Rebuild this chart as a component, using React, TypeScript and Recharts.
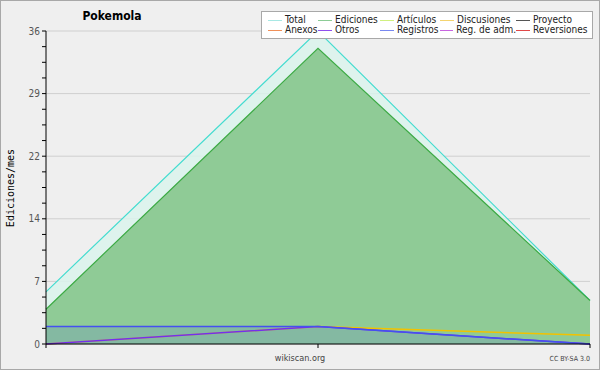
import React from 'react';
import { AreaChart, Area, XAxis, YAxis, CartesianGrid } from 'recharts';

const months = ['2023-11', '2023-12', '2024-01'];
const total = [6, 36, 5];
const ediciones = [4, 34, 5];
const discusiones = [0, 2, 1];
const otros = [0, 2, 0];
const registros = [2, 2, 0];

const yLabels = ['0', '7', '14', '22', '29', '36'];
const yMax = 36;

const legendItems = [
  { name: 'Total', color: '#a8e8e4' },
  { name: 'Ediciones', color: '#8ccc96' },
  { name: 'Artículos', color: '#d0f080' },
  { name: 'Discusiones', color: '#f4d470' },
  { name: 'Proyecto', color: '#555555' },
  { name: 'Anexos', color: '#f09058' },
  { name: 'Otros', color: '#9050ee' },
  { name: 'Registros', color: '#7888f0' },
  { name: 'Reg. de adm.', color: '#c865e0' },
  { name: 'Reversiones', color: '#e04848' },
];

const data = months.map((m, i) => ({
  mes: m,
  total: total[i],
  ediciones: ediciones[i],
  discusiones: discusiones[i],
  otros: otros[i],
  registros: registros[i],
}));

const majorStep = yMax / (yLabels.length - 1);
const minorStep = majorStep / 4;
const yTicks = Array.from({ length: (yLabels.length - 1) * 4 + 1 }, (_, i) => +(i * minorStep).toFixed(3));
const majorTicks = yLabels.map((_, i) => +(i * majorStep).toFixed(3));

const font = "'DejaVu Sans Condensed', 'DejaVu Sans', sans-serif";

const YTick = (props: any) => {
  const { x, y, payload } = props;
  const idx = Math.round(payload.value / minorStep);
  if (idx % 4 !== 0) return <g />;
  return (
    <text x={x} y={y} dy={3.5} textAnchor="end" fontSize={10} fill="#555" fontFamily={font} style={{ fontStretch: 'condensed' }}>
      {yLabels[idx / 4]}
    </text>
  );
};

export default function App() {
  return (
    <div style={{ position: 'fixed', left: 0, top: 0, width: 600, height: 370, background: '#efefef', fontFamily: font }}>
      <AreaChart width={600} height={370} data={data} margin={{ top: 31, right: 10, bottom: 6, left: 8 }}>
        <CartesianGrid vertical={false} horizontalValues={majorTicks} stroke="#cfcfcf" />
        <XAxis
          dataKey="mes"
          tickFormatter={() => ''}
          tickSize={4}
          height={20}
          interval={0}
          axisLine={{ stroke: '#000' }}
          tickLine={{ stroke: '#000' }}
        />
        <YAxis
          type="number"
          domain={[0, yMax]}
          ticks={yTicks}
          interval={0}
          width={38}
          tickSize={4}
          tickMargin={2}
          tick={<YTick />}
          axisLine={{ stroke: '#000' }}
          tickLine={{ stroke: '#000' }}
        />
        <Area dataKey="total" type="linear" stroke="#44dcd0" strokeWidth={1.2} fill="#dbf3ec" fillOpacity={0.85} dot={false} activeDot={false} isAnimationActive={false} />
        <Area dataKey="ediciones" type="linear" stroke="#3caa44" strokeWidth={1.2} fill="#8fcb96" fillOpacity={1} dot={false} activeDot={false} isAnimationActive={false} />
        <Area dataKey="discusiones" type="linear" stroke="#f2c200" strokeWidth={1.5} fill="none" dot={false} activeDot={false} isAnimationActive={false} />
        <Area dataKey="otros" type="linear" stroke="#7a2cf0" strokeWidth={1.5} fill="none" dot={false} activeDot={false} isAnimationActive={false} />
        <Area dataKey="registros" type="linear" stroke="#4450f0" strokeWidth={1.5} fill="#4450f0" fillOpacity={0.14} dot={false} activeDot={false} isAnimationActive={false} />
      </AreaChart>

      <div style={{ position: 'absolute', left: 70, top: 9, width: 84, textAlign: 'center', fontWeight: 'bold', fontSize: 12, color: '#000', fontStretch: 'condensed' }}>
        Pokemola
      </div>

      <div
        style={{
          position: 'absolute',
          left: 10,
          top: 188,
          transform: 'translate(-50%, -50%) rotate(-90deg)',
          fontSize: 10,
          fontFamily: "'DejaVu Sans Mono', monospace",
          whiteSpace: 'nowrap',
          color: '#000',
        }}
      >
        Ediciones/mes
      </div>

      <div style={{ position: 'absolute', left: 250, top: 353, width: 100, textAlign: 'center', fontSize: 9, color: '#444', fontStretch: 'condensed' }}>
        wikiscan.org
      </div>
      <div style={{ position: 'absolute', right: 10, top: 355, fontSize: 7, color: '#444', fontStretch: 'condensed' }}>
        CC BY-SA 3.0
      </div>

      <div
        style={{
          position: 'absolute',
          left: 261,
          top: 11,
          width: 332,
          height: 28,
          boxSizing: 'border-box',
          background: '#fff',
          border: '1px solid #a8a8a8',
          paddingLeft: 6,
          paddingTop: 3,
          display: 'grid',
          gridTemplateColumns: '50px 62px 60px 76px 76px',
          gridAutoRows: '10px',
          fontSize: 10,
          lineHeight: '10px',
          color: '#222',
          fontStretch: 'condensed',
        }}
      >
        {legendItems.map((it) => (
          <div key={it.name} style={{ display: 'flex', alignItems: 'center', whiteSpace: 'nowrap' }}>
            <span style={{ display: 'inline-block', width: 14, height: 1, background: it.color, marginRight: 3 }} />
            <span>{it.name}</span>
          </div>
        ))}
      </div>

      <div style={{ position: 'absolute', inset: 0, border: '1px solid #a8a8a8', pointerEvents: 'none' }} />
    </div>
  );
}
